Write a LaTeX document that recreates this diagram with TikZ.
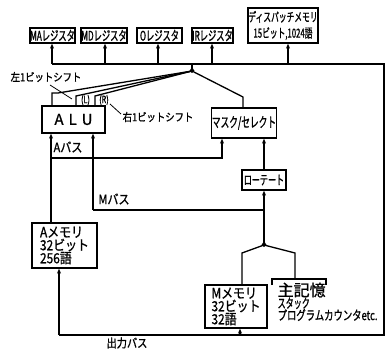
\documentclass[tikz,border=0pt]{standalone}
\usepackage{fontspec}
\newfontfamily\jpa[FakeStretch=0.62,FakeBold=1]{Noto Sans CJK JP}
\newfontfamily\jpb[FakeStretch=0.72,FakeBold=1]{Noto Sans CJK JP}
\newfontfamily\jpc[FakeStretch=0.85,FakeBold=1]{Noto Sans CJK JP}
\newfontfamily\jpd[FakeBold=1]{Noto Sans CJK JP}
\usetikzlibrary{arrows.meta}
\begin{document}
\begin{tikzpicture}[x=1pt,y=-1pt,line width=1.3pt,
  box/.style={draw,rectangle,inner sep=0.3pt,font=\jpa\fontsize{13.3}{14}\selectfont,align=center},
  arr/.style={-{Stealth[length=5pt,width=4pt]}},
  lbl/.style={font=\jpc\fontsize{13}{13}\selectfont,inner sep=0pt},
  thinl/.style={line width=0.8pt}]
\useasboundingbox (0,0) rectangle (386,350);
% top registers
\node[box,minimum width=41pt,minimum height=15pt] (ma) at (52.5,35.5) {MAレジスタ};
\node[box,minimum width=42pt,minimum height=15pt] (md) at (104,35.5) {MDレジスタ};
\node[box,minimum width=45pt,minimum height=15pt] (oreg) at (159.5,35.5) {Oレジスタ};
\node[box,minimum width=41pt,minimum height=15pt] (ir) at (212.5,35.5) {IRレジスタ};
\node[box,minimum width=68pt,minimum height=35pt,font=\jpa\fontsize{12.5}{16}\selectfont] (disp) at (283,25.5) {ディスパッチメモリ\\15ビット,1024語};
% main units
\node[box,minimum width=63pt,minimum height=27pt,font=\jpd\fontsize{15}{15}\selectfont] (alu) at (73.5,119.5) {A\,\,L\,\,U};
\node[box,minimum width=64pt,minimum height=30pt,font=\jpa\fontsize{14}{14}\selectfont] (mask) at (244,123) {マスク/セレクト};
\node[box,minimum width=44pt,minimum height=20pt,font=\jpa\fontsize{13}{13}\selectfont] (rot) at (264,180) {ローテート};
\node[box,minimum width=65pt,minimum height=45pt,align=left,font=\jpc\fontsize{14}{13}\selectfont] (amem) at (64.5,245.5) {Aメモリ\\32ビット\\256語};
\node[box,minimum width=62pt,minimum height=43pt,align=left,font=\jpc\fontsize{14}{13}\selectfont] (mmem) at (236,306.5) {Mメモリ\\32ビット\\32語};
\node[inner sep=0pt,anchor=north west,align=left] (main) at (277,282) {{\jpd\fontsize{16}{15}\selectfont 主記憶}\\[0pt]{\jpa\fontsize{13}{13}\selectfont スタック}\\[0pt]{\jpb\fontsize{13}{13}\selectfont プログラムカウンタetc.}};
% bus coordinates
\coordinate (b0) at (52,64);
\coordinate (b1) at (105,64);
\coordinate (b2) at (158,64);
\coordinate (b3) at (212,64);
\coordinate (b4) at (288,64);
\coordinate (bJ) at (192,64);
\coordinate (bR) at (384,64);
\coordinate (cR) at (384,335);
\coordinate (cM) at (240,335);
\coordinate (cL) at (59,335);
\draw (b0) -- (bR) -- (cR) -- (cL);
\draw[arr] (b0) -- (b0 |- ma.south);
\draw[arr] (b1) -- (b1 |- md.south);
\draw[arr] (b2) -- (b2 |- oreg.south);
\draw[arr] (b3) -- (b3 |- ir.south);
\draw[arr] (b4) -- (b4 |- disp.south);
\draw[arr] (cL) -- (cL |- amem.south);
\draw[arr] (cM) -- (cM |- mmem.south);
% top junction
\coordinate (J) at (192,71);
\draw (bJ) -- (J);
\fill (192,67) -- (194.5,71) -- (192,73) -- (189.5,71) -- cycle;
\coordinate (f1) at (58,93);
\coordinate (f0) at (52,93);
\coordinate (f2) at (76,96);
\coordinate (f3) at (95,96);
\coordinate (f4) at (243,97);
\draw (J) -- (f1) -- (f0) -- (f0 |- alu.north);
\draw (J) -- (f2) -- (f2 |- alu.north);
\draw (J) -- (f3) -- (f3 |- alu.north);
\draw (J) -- (f4) -- (f4 |- mask.north);
\node[font=\jpb\fontsize{10}{10}\selectfont,inner sep=0pt] (lsh) at (85.5,100) {(L)};
\node[font=\jpb\fontsize{10}{10}\selectfont,inner sep=0pt] (rsh) at (104,100) {(R)};
\node[lbl,font=\jpc\fontsize{11}{11}\selectfont] (ltxt) at (46,77) {左1ビットシフト};
\node[lbl,font=\jpc\fontsize{11}{11}\selectfont] (rtxt) at (158,117) {右1ビットシフト};
\draw[thinl] (50,85) -- (72,99);
\draw[thinl] (110,104) -- (121,114);
% A bus
\coordinate (ab) at (51,158);
\coordinate (abR) at (222,158);
\draw[arr] (ab |- amem.north) -- (ab |- alu.south);
\draw[arr] (ab) -- (abR) -- (abR |- mask.south);
\node[lbl] (abl) at (68,147) {Aバス};
% M bus
\coordinate (mbL) at (93,210);
\coordinate (mbR) at (264,210);
\draw[arr] (mbL) -- (mbL |- alu.south);
\draw[arr] (mbL) -- (mbR) -- (rot.south);
\draw[arr] (rot.north) -- (rot.north |- mask.south);
\node[lbl] (mbl) at (114,199) {Mバス};
% lower junction
\coordinate (J2) at (264,245);
\coordinate (J2l) at (242,253);
\coordinate (J2r) at (295,253);
\draw (mbR) -- (J2);
\fill (264,241) -- (266.5,245) -- (264,247) -- (261.5,245) -- cycle;
\coordinate (mkL) at (272,279);
\coordinate (mkR) at (326,279);
\draw (J2l |- mmem.north) -- (J2l) -- (J2) -- (J2r) -- (J2r |- mkL);
\draw (272,285) -- (mkL) -- (mkR) -- (326,285);
\node[lbl,font=\jpc\fontsize{12}{12}\selectfont] (obl) at (127,343) {出力バス};
\end{tikzpicture}
\end{document}
